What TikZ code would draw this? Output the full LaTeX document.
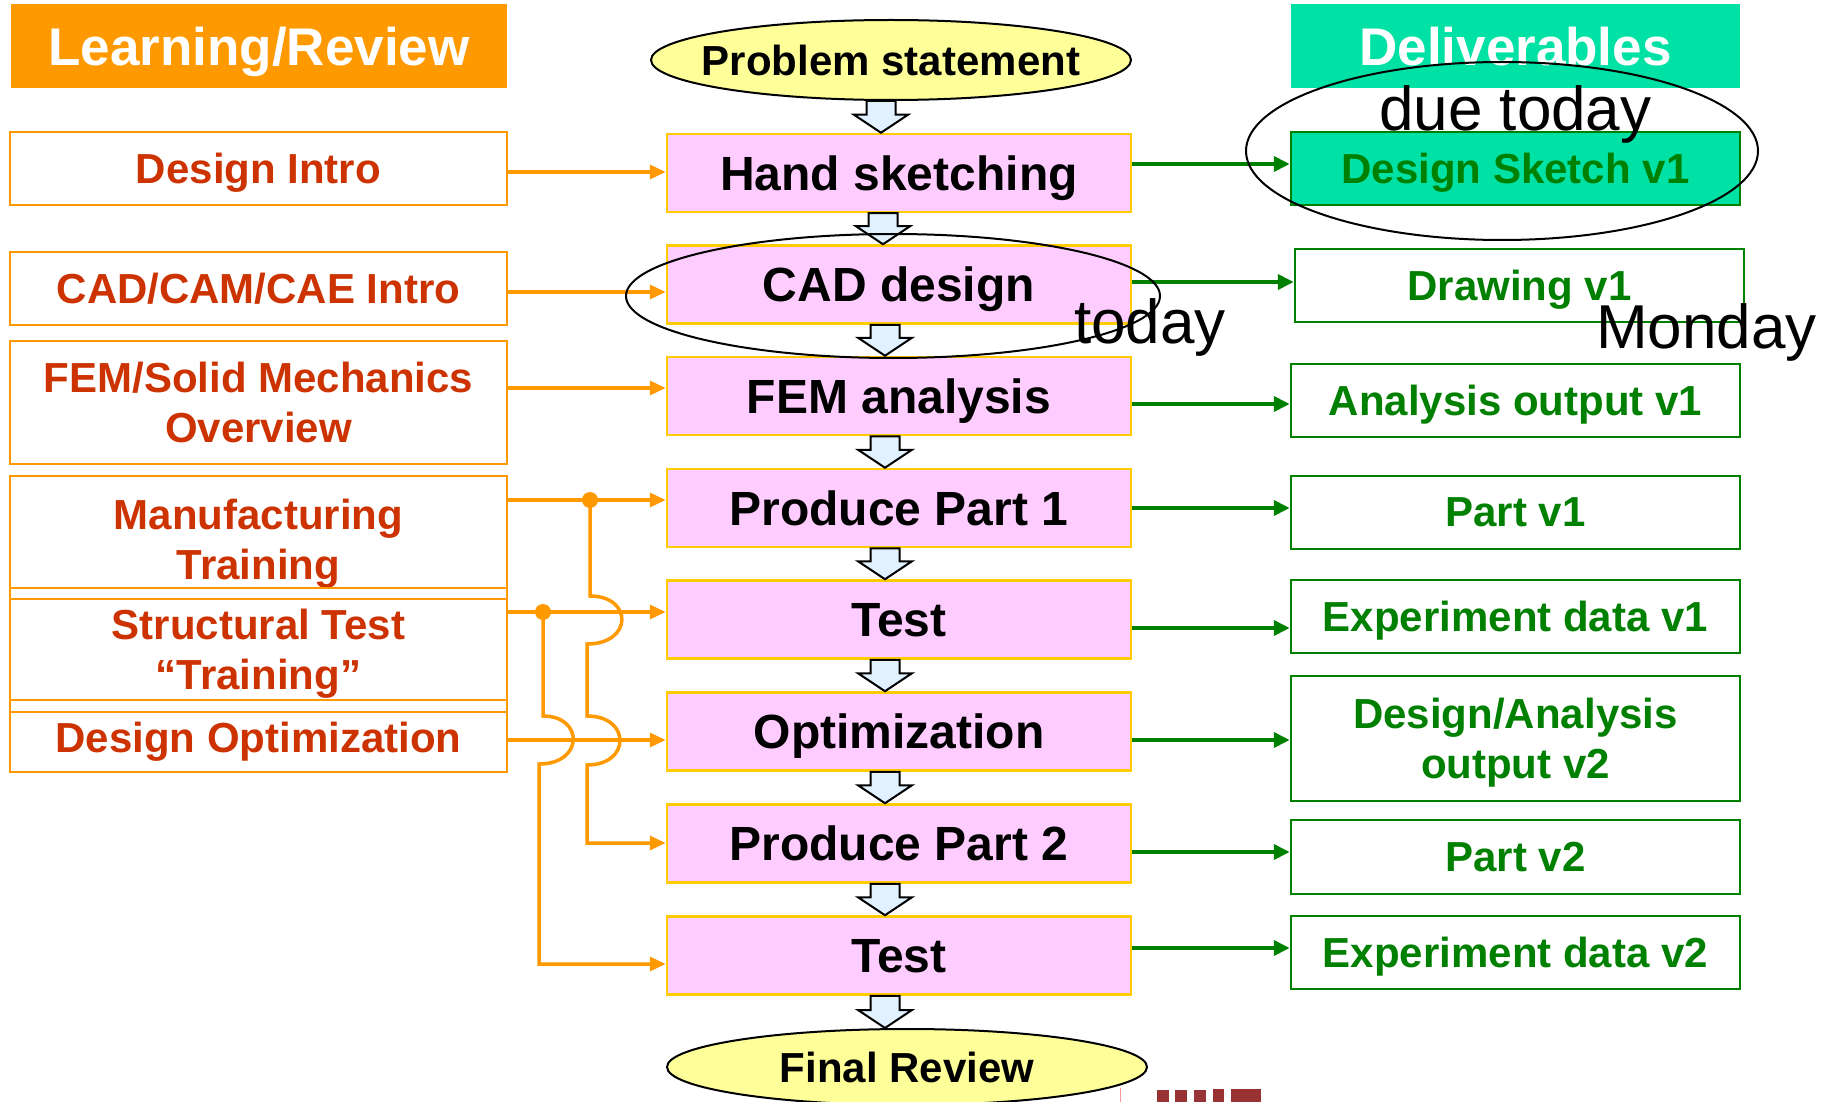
\documentclass[tikz,border=0pt]{standalone}
\usepackage{fontspec}
\setmainfont{Liberation Sans}
\usetikzlibrary{shapes.geometric,arrows.meta,calc}
\definecolor{orng}{HTML}{FF9900}
\definecolor{leftred}{HTML}{CC3300}
\definecolor{pinkfill}{HTML}{FFCCFF}
\definecolor{pinkline}{HTML}{FFCC00}
\definecolor{yell}{HTML}{FFFF99}
\definecolor{mint}{HTML}{00E1A5}
\definecolor{grn}{HTML}{008000}
\definecolor{lblue}{HTML}{E1F1FF}
\definecolor{logored}{HTML}{993333}
\newcommand{\bdown}[3]{%
  \draw[barrow] let \p1=(#1.south), \p2=(#2.north) in
    ({#3pt-14.5pt},\y1) -- ({#3pt+14.5pt},\y1) -- ({#3pt+14.5pt},{\y2+18pt})
    -- ({#3pt+27pt},{\y2+18pt}) -- ({#3pt},\y2) -- ({#3pt-27pt},{\y2+18pt})
    -- ({#3pt-14.5pt},{\y2+18pt}) -- cycle;}
\begin{document}
\begin{tikzpicture}[x=1pt,y=-1pt,
  hdr/.style={inner sep=0pt, minimum height=84pt, text=white, text depth=0pt,
    font=\fontsize{53}{60}\selectfont\bfseries},
  lbox/.style={draw=orng, line width=2.5pt, fill=white, text=leftred, align=center,
    inner sep=0pt, minimum width=497pt, text depth=0pt,
    font=\fontsize{42}{50}\selectfont\bfseries},
  rbox/.style={draw=grn, line width=2.5pt, fill=white, text=grn, align=center,
    inner sep=0pt, minimum width=449pt, text depth=0pt,
    font=\fontsize{42}{50}\selectfont\bfseries},
  pbox/.style={draw=pinkline, line width=2.5pt, fill=pinkfill, text=black,
    inner sep=0pt, minimum width=464pt, minimum height=78pt, text depth=0pt,
    font=\fontsize{48}{56}\selectfont\bfseries},
  ell/.style={ellipse, draw=black, line width=2pt, fill=yell, inner sep=0pt,
    minimum width=480pt, text depth=0pt, font=\fontsize{42}{50}\selectfont\bfseries},
  barrow/.style={draw=black, line width=2pt, fill=lblue, line join=miter},
  oline/.style={draw=orng, line width=3.5pt},
  oarr/.style={oline, -{Triangle[length=16pt,width=14pt]}},
  garr/.style={draw=grn, line width=3.8pt, -{Triangle[length=16pt,width=15pt]}},
  anno/.style={inner sep=0pt, text=black, font=\fontsize{62}{70}\selectfont},
  handring/.style={draw=black, line width=2pt}]
\useasboundingbox (0,0) rectangle (1824,1102);
\fill[white] (0,0) rectangle (1824,1102);

% headers
\node[hdr, fill=orng, minimum width=496pt] (lr) at (259,46) {Learning/Review};
\node[hdr, fill=mint, minimum width=449pt] (dl) at (1515.5,46) {Deliverables};

% central flow
\node[ell, minimum height=80pt] (ps) at (891,60) {\makebox[0pt]{Problem statement}};
\node[pbox] (hs)  at (899,173)   {Hand sketching};
\node[pbox] (cad) at (899,284.5) {CAD design};
\node[pbox] (fem) at (899,396)   {FEM analysis};
\node[pbox] (pp1) at (899,508)   {Produce Part 1};
\node[pbox] (t1)  at (899,619.5) {Test};
\node[pbox] (opt) at (899,731.5) {Optimization};
\node[pbox] (pp2) at (899,843.5) {Produce Part 2};
\node[pbox] (t2)  at (899,955.5) {Test};
\node[ell, minimum height=76pt] (fr) at (907,1067) {\makebox[0pt]{Final Review}};

% left boxes
\node[lbox, minimum height=73pt]  (l1) at (258.5,168.5) {Design Intro};
\node[lbox, minimum height=73pt]  (l2) at (258.5,288.5) {CAD/CAM/CAE Intro};
\node[lbox, minimum height=123pt] (l3) at (258.5,402.5) {FEM/Solid Mechanics\\Overview};
\node[lbox, minimum height=112pt, text height=94pt] (l4) at (258.5,532) {Manufacturing\\Training};
\node[lbox, minimum height=101pt] (l5) at (258.5,649.5) {Structural Test\\“Training”};
\node[lbox, minimum height=60pt, text depth=10pt] (l6) at (258.5,742) {Design Optimization};
\draw[draw=orng, line width=2.5pt] (10,588) rectangle (507,599);
\draw[draw=orng, line width=2.5pt] (10,700) rectangle (507,712);

% right boxes
\node[rbox, fill=mint, minimum height=73pt] (ds) at (1515.5,168.5) {Design Sketch v1};
\node[rbox, minimum height=73pt]  (dr) at (1519.5,285.5) {Drawing v1};
\node[rbox, minimum height=73pt]  (ao) at (1515.5,400.5) {Analysis output v1};
\node[rbox, minimum height=73pt]  (p1) at (1515.5,512.5) {Part v1};
\node[rbox, minimum height=73pt]  (e1) at (1515.5,616.5) {Experiment data v1};
\node[rbox, minimum height=125pt] (da) at (1515.5,738.5) {Design/Analysis\\output v2};
\node[rbox, minimum height=74pt]  (p2) at (1515.5,857)   {Part v2};
\node[rbox, minimum height=73pt]  (e2) at (1515.5,952.5) {Experiment data v2};

% block arrows
\bdown{ps}{hs}{881}
\bdown{hs}{cad}{883}
\bdown{cad}{fem}{885}
\bdown{fem}{pp1}{885}
\bdown{pp1}{t1}{885}
\bdown{t1}{opt}{885}
\bdown{opt}{pp2}{885}
\bdown{pp2}{t2}{885}
\bdown{t2}{fr}{885}

% orange connectors
\draw[oarr] (l1.east |- 0,172) -- (hs.west |- 0,172);
\draw[oarr] (l2.east |- 0,292) -- (cad.west |- 0,292);
\draw[oarr] (l3.east |- 0,388) -- (fem.west |- 0,388);
\draw[oarr] (l4.east |- 0,500) -- (pp1.west |- 0,500);
\draw[oarr] (l5.east |- 0,612) -- (t1.west |- 0,612);
\draw[oarr] (l6.east |- 0,740) -- (opt.west |- 0,740);
\coordinate (j1) at (590,500);
\coordinate (j2) at (543,612);
\fill[orng] (j1) circle (8pt);
\fill[orng] (j2) circle (8pt);
\draw[oline, -{Triangle[length=16pt,width=14pt]}] (j1) -- (590,596)
   .. controls (633,596) and (633,644) .. (587,644) -- (587,716)
   .. controls (631,716) and (631,765) .. (587,765) -- (587,843)
   -- (pp2.west |- 0,843);
\draw[oline, -{Triangle[length=16pt,width=14pt]}] (j2) -- (543,716)
   .. controls (584,716) and (584,764) .. (539,764) -- (539,964)
   -- (t2.west |- 0,964);

% green connectors
\draw[garr] (hs.east |- 0,164) -- (ds.west |- 0,164);
\draw[garr] (cad.east |- 0,282) -- (dr.west |- 0,282);
\draw[garr] (fem.east |- 0,404) -- (ao.west |- 0,404);
\draw[garr] (pp1.east |- 0,508) -- (p1.west |- 0,508);
\draw[garr] (t1.east |- 0,628) -- (e1.west |- 0,628);
\draw[garr] (opt.east |- 0,740) -- (da.west |- 0,740);
\draw[garr] (pp2.east |- 0,852) -- (p2.west |- 0,852);
\draw[garr] (t2.east |- 0,948) -- (e2.west |- 0,948);

% hand annotations
\draw[handring] (1502,151) ellipse [x radius=256pt, y radius=89pt];
\draw[handring] (893,296) ellipse [x radius=267pt, y radius=62pt];
\node[anno, anchor=base west] (due) at (1379,131) {due today};
\node[anno, anchor=base west] (tod) at (1074,343) {today};
\node[anno, anchor=base west] (mon) at (1596,348) {Monday};

% logo fragment at the bottom
\draw[draw=red!40, line width=1pt] (1120,1088) -- (1120,1102);
\fill[logored] (1157,1090) rectangle (1169,1102);
\fill[logored] (1175,1090) rectangle (1187,1102);
\fill[logored] (1194,1090) rectangle (1206,1102);
\fill[logored] (1213,1089) rectangle (1224,1102);
\fill[logored] (1231,1089) rectangle (1261,1102);
\end{tikzpicture}
\end{document}
